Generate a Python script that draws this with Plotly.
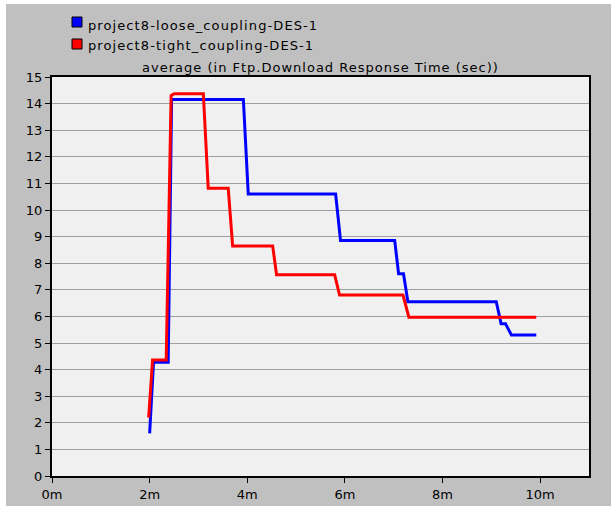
import plotly.graph_objects as go

# time in minutes
loose_x = [2.0, 2.08, 2.38, 2.45, 3.92, 4.02, 5.81, 5.91, 7.02, 7.10, 7.20, 7.29, 9.10, 9.20, 9.29, 9.41, 9.92]
loose_y = [1.6, 4.28, 4.28, 14.15, 14.15, 10.6, 10.6, 8.85, 8.85, 7.6, 7.6, 6.55, 6.55, 5.72, 5.72, 5.3, 5.3]

tight_x = [1.98, 2.06, 2.34, 2.44, 2.50, 3.10, 3.20, 3.61, 3.70, 4.52, 4.60, 5.79, 5.89, 7.19, 7.31, 9.92]
tight_y = [2.2, 4.36, 4.36, 14.3, 14.37, 14.37, 10.82, 10.82, 8.65, 8.65, 7.57, 7.57, 6.8, 6.8, 5.97, 5.97]

x_tickvals = [0, 2, 4, 6, 8, 10]
x_ticktext = ["0m", "2m", "4m", "6m", "8m", "10m"]
y_tickvals = list(range(0, 16))

names = ["project8-loose_coupling-DES-1", "project8-tight_coupling-DES-1"]
colors = ["#0000ff", "#ff0000"]
title = "average (in Ftp.Download Response Time (sec))"

FONT = "DejaVu Sans, Verdana, sans-serif"

# plot area in pixels (for placing legend swatches outside the axes)
L, R, T, B = 52, 589, 77, 476


def spaced(t, px):
    return f'<span style="letter-spacing:{px}px">{t}</span>'


def px_x(p):
    return (p - L) / (R - L)


def px_y(p):
    return (B - p) / (B - T)


fig = go.Figure()
for xs, ys, c in [(loose_x, loose_y, colors[0]), (tight_x, tight_y, colors[1])]:
    fig.add_trace(go.Scatter(x=xs, y=ys, mode="lines", line=dict(color=c, width=3),
                             showlegend=False, hoverinfo="skip"))
for n, c in zip(names, colors):
    fig.add_trace(go.Scatter(x=[None], y=[None], mode="markers", name=spaced(n, 1.1),
                             marker=dict(symbol="square", size=10, color="rgba(0,0,0,0)",
                                         line=dict(color="rgba(0,0,0,0)", width=0))))

fig.update_layout(
    width=611, height=506,
    margin=dict(l=L, r=611 - R, t=T, b=506 - B, autoexpand=False),
    paper_bgcolor="#c0c0c0",
    plot_bgcolor="#f0f0f0",
    font=dict(family=FONT, size=13, color="black"),
    title=dict(text=spaced(title, 1.0), x=0.5, xref="paper", xanchor="center",
               y=1, yref="paper", yanchor="bottom", pad=dict(b=5),
               font=dict(family=FONT, size=13, color="black")),
    legend=dict(x=48 / 611, y=1 - 10 / 506, xref="container", yref="container",
                xanchor="left", yanchor="top",
                bgcolor="rgba(0,0,0,0)", font=dict(family=FONT, size=13),
                itemsizing="constant", tracegroupgap=0),
    showlegend=True,
)
fig.update_xaxes(range=[0, 11], tickvals=x_tickvals, ticktext=x_ticktext,
                 showgrid=False, zeroline=False,
                 showline=True, linecolor="black", linewidth=2, mirror=True,
                 ticks="outside", ticklen=5, tickcolor="black", tickwidth=1,
                 tickfont=dict(family=FONT, size=13))
fig.update_yaxes(range=[0, 15], tickvals=y_tickvals,
                 showgrid=True, gridcolor="#a0a0a0", gridwidth=1, zeroline=False,
                 showline=True, linecolor="black", linewidth=2, mirror=True,
                 ticks="outside", ticklen=5, tickcolor="black", tickwidth=1,
                 tickfont=dict(family=FONT, size=13))

# legend swatches (square with black outline, as in the original)
for c, cy in zip(colors, [22, 44]):
    fig.add_shape(type="rect", xref="paper", yref="paper",
                  x0=px_x(72), x1=px_x(82), y0=px_y(cy + 5), y1=px_y(cy - 5),
                  fillcolor=c, line=dict(color="black", width=1), layer="above")

# white border strips of the original window capture
fig.add_shape(type="rect", xref="paper", yref="paper", x0=-0.2, x1=px_x(6),
              y0=-0.2, y1=1.3, fillcolor="white", line_width=0, layer="above")
fig.add_shape(type="rect", xref="paper", yref="paper", x0=-0.2, x1=1.2,
              y0=px_y(4), y1=1.3, fillcolor="white", line_width=0, layer="above")

fig.write_html("out.html", config={"displayModeBar": False},
               post_script="document.body.style.margin='0';document.body.style.overflow='hidden';")
